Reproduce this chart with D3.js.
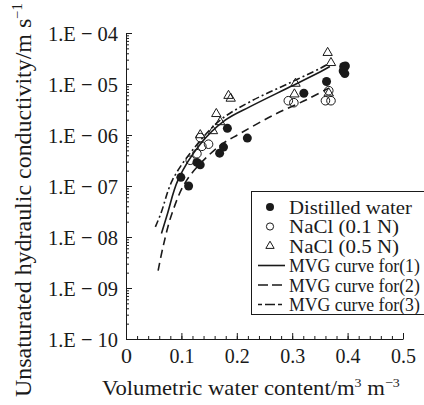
<!DOCTYPE html>
<html>
<head>
<meta charset="utf-8">
<script src="https://cdn.jsdelivr.net/npm/d3@7"></script>
<style>
body { margin: 0; background: #fff; }
svg, svg text { font-family: "Liberation Serif", "Times New Roman", "DejaVu Serif", serif; }
</style>
</head>
<body>
<svg id="chart" width="424" height="405"></svg>
<script>
// ---- data: [water content, conductivity]
const xTicks = [0, 0.1, 0.2, 0.3, 0.4, 0.5];
const xTickLabels = ["0", "0.1", "0.2", "0.3", "0.4", "0.5"];
const yTicks = [1e-10, 1e-9, 1e-8, 1e-7, 1e-6, 1e-5, 1e-4];
const yTickLabels = ["1.E − 10", "1.E − 09", "1.E − 08", "1.E − 07", "1.E − 06", "1.E − 05", "1.E − 04"];

const distilled = [
  [0.099, 1.48e-7], [0.113, 1.0e-7], [0.128, 2.9e-7], [0.134, 2.6e-7],
  [0.169, 4.4e-7], [0.176, 5.8e-7], [0.183, 1.35e-6], [0.219, 8.7e-7],
  [0.321, 6.6e-6], [0.362, 1.12e-5], [0.393, 2.2e-5], [0.396, 2.25e-5],
  [0.392, 1.8e-5], [0.395, 1.6e-5]
];
const nacl01 = [
  [0.116, 3.2e-7], [0.128, 4.3e-7], [0.137, 6.0e-7], [0.149, 6.6e-7],
  [0.134, 8.9e-7], [0.293, 4.7e-6], [0.303, 4.3e-6], [0.360, 4.7e-6],
  [0.370, 4.7e-6], [0.366, 7.4e-6]
];
const nacl05 = [
  [0.134, 1.0e-6], [0.157, 1.2e-6], [0.163, 2.6e-6], [0.170, 1.8e-6],
  [0.185, 5.9e-6], [0.189, 5.2e-6], [0.304, 6.3e-6], [0.306, 1.02e-5],
  [0.364, 4.1e-5], [0.370, 2.6e-5], [0.366, 6.6e-6]
];

const curve1 = [
  [0.064, 1.17e-8], [0.075, 2.9e-8], [0.094, 1.32e-7], [0.134, 6.6e-7],
  [0.179, 1.95e-6], [0.224, 3.6e-6], [0.297, 8.9e-6], [0.351, 1.74e-5], [0.368, 2.2e-5]
];
const curve2 = [
  [0.058, 2.2e-9], [0.067, 6.5e-9], [0.083, 2.9e-8], [0.110, 1.32e-7],
  [0.167, 5.9e-7], [0.206, 1.07e-6], [0.266, 2.45e-6], [0.327, 5.0e-6], [0.366, 8.3e-6]
];
const curve3 = [
  [0.053, 1.58e-8], [0.063, 2.9e-8], [0.084, 1.32e-7], [0.125, 5.9e-7],
  [0.170, 1.95e-6], [0.224, 4.5e-6], [0.297, 1.07e-5], [0.351, 2.04e-5], [0.366, 2.5e-5]
];

const legendLabels = ["Distilled water", "NaCl  (0.1 N)", "NaCl  (0.5 N)",
  "MVG curve for(1)", "MVG curve for(2)", "MVG curve for(3)"];

const ink = "#1a1a1a";
const serif = '"Liberation Serif", "Times New Roman", serif';
const dashed = "8,5";
const dashdot = "7,3,2,3";

const svg = d3.select("#chart");

var x = d3.scaleLinear().domain([0, 0.5]).range([126, 403]);
var y = d3.scaleLog().domain([1e-10, 1e-4]).range([339, 33]);

// the source font is condensed: squeeze a text horizontally so it spans len px,
// anchored at (tx,ty) and rotated by rot
function squeeze(node, tx, ty, len, rot) {
  var s = len / node.getComputedTextLength();
  d3.select(node)
    .attr("x", 0).attr("y", 0)
    .attr("transform", `translate(${tx},${ty})` + (rot ? ` rotate(${rot})` : "") + ` scale(${s},1)`);
}

/////////////// axes

// minor ticks
var yMinor = [];
for (let e = -10; e < -4; e++) for (let m = 2; m <= 9; m++) yMinor.push(m * Math.pow(10, e));
svg.append("g")
  .attr("transform", "translate(126,0)")
  .call(d3.axisLeft(y).tickValues(yMinor).tickSize(-3).tickFormat(""))
  .call(g => g.select(".domain").remove());

var xMinor = d3.range(0, 0.5001, 0.02);
svg.append("g")
  .attr("transform", "translate(0,339)")
  .call(d3.axisBottom(x).tickValues(xMinor).tickSize(-3).tickFormat(""))
  .call(g => g.select(".domain").remove());

var gy = svg.append("g")
  .attr("transform", "translate(126,0)")
  .call(d3.axisLeft(y).tickValues(yTicks).tickSize(-6).tickSizeOuter(0)
    .tickFormat((d, i) => yTickLabels[i]));
gy.attr("font-family", serif);
gy.selectAll("text")
  .attr("dy", "0.34em")
  .attr("font-size", 22).attr("fill", ink)
  .each(function () { squeeze(this, -8, 0, 70); });

var gx = svg.append("g")
  .attr("transform", "translate(0,339)")
  .call(d3.axisBottom(x).tickValues(xTicks).tickSize(-6).tickSizeOuter(0)
    .tickFormat((d, i) => xTickLabels[i]));
gx.attr("font-family", serif);
gx.selectAll("text")
  .attr("dy", 0)
  .attr("font-size", 22).attr("fill", ink)
  .each(function (d, i) { squeeze(this, 0, 24, i > 0 ? 25 : this.getComputedTextLength()); });

svg.selectAll(".domain, .tick line").attr("stroke", ink).attr("stroke-width", 1);

/////////////// curves

var line = d3.line()
  .x(d => x(d[0]))
  .y(d => y(d[1]))
  .curve(d3.curveCatmullRom.alpha(0.5));

[[curve1, null], [curve2, dashed], [curve3, dashdot]].forEach(([c, dash]) => {
  svg.append("path")
    .datum(c)
    .attr("d", line)
    .attr("fill", "none")
    .attr("stroke", ink)
    .attr("stroke-width", 1.6)
    .attr("stroke-dasharray", dash);
});

/////////////// points

var tri = d3.symbol(d3.symbolTriangle, 38);

svg.append("g").selectAll("circle")
  .data(nacl01).enter().append("circle")
  .attr("cx", d => x(d[0])).attr("cy", d => y(d[1])).attr("r", 4.3)
  .attr("fill", "none").attr("stroke", ink).attr("stroke-width", 1);

svg.append("g").selectAll("path")
  .data(nacl05).enter().append("path")
  .attr("d", tri)
  .attr("transform", d => `translate(${x(d[0])},${y(d[1])})`)
  .attr("fill", "none").attr("stroke", ink).attr("stroke-width", 1);

svg.append("g").selectAll("circle")
  .data(distilled).enter().append("circle")
  .attr("cx", d => x(d[0])).attr("cy", d => y(d[1])).attr("r", 4.5)
  .attr("fill", ink);

/////////////// legend

var lg = svg.append("g").attr("font-family", serif);
lg.append("rect")
  .attr("x", 251.5).attr("y", 191.5).attr("width", 190).attr("height", 123)
  .attr("fill", "#fff").attr("stroke", ink).attr("stroke-width", 1);

legendLabels.forEach((t, i) => {
  var cy = 207 + i * 19.5;
  if (i === 0) lg.append("circle").attr("cx", 270).attr("cy", cy).attr("r", 4).attr("fill", ink);
  if (i === 1) lg.append("circle").attr("cx", 270).attr("cy", cy).attr("r", 3.6)
    .attr("fill", "none").attr("stroke", ink);
  if (i === 2) lg.append("path").attr("d", d3.symbol(d3.symbolTriangle, 30))
    .attr("transform", `translate(270,${cy})`).attr("fill", "none").attr("stroke", ink);
  if (i >= 3) lg.append("line")
    .attr("x1", 258).attr("x2", 285).attr("y1", cy).attr("y2", cy)
    .attr("stroke", ink).attr("stroke-width", 1.6)
    .attr("stroke-dasharray", [null, "10,4", "4,3,10,3,4"][i - 3]);
  lg.append("text")
    .attr("font-size", 19).attr("fill", ink)
    .text(t)
    .each(function () { squeeze(this, 289, cy + 6.5, [123, 110, 110, 131, 131, 131][i]); });
});

/////////////// axis titles

var xt = svg.append("text")
  .attr("font-family", serif)
  .attr("font-size", 21).attr("fill", ink);
xt.append("tspan").text("Volumetric water content/m");
xt.append("tspan").attr("dy", -8).attr("font-size", 13).text("3");
xt.append("tspan").attr("dy", 8).text(" m");
xt.append("tspan").attr("dy", -8).attr("font-size", 13).text("−3");
squeeze(xt.node(), 102, 395, 298);

var yt = svg.append("text")
  .attr("font-family", serif)
  .attr("font-size", 23).attr("fill", ink);
yt.append("tspan").text("Unsaturated hydraulic conductivity/m s");
yt.append("tspan").attr("dy", -9).attr("font-size", 14).text("−1");
squeeze(yt.node(), 31, 397, 394, -90);
</script>
</body>
</html>
